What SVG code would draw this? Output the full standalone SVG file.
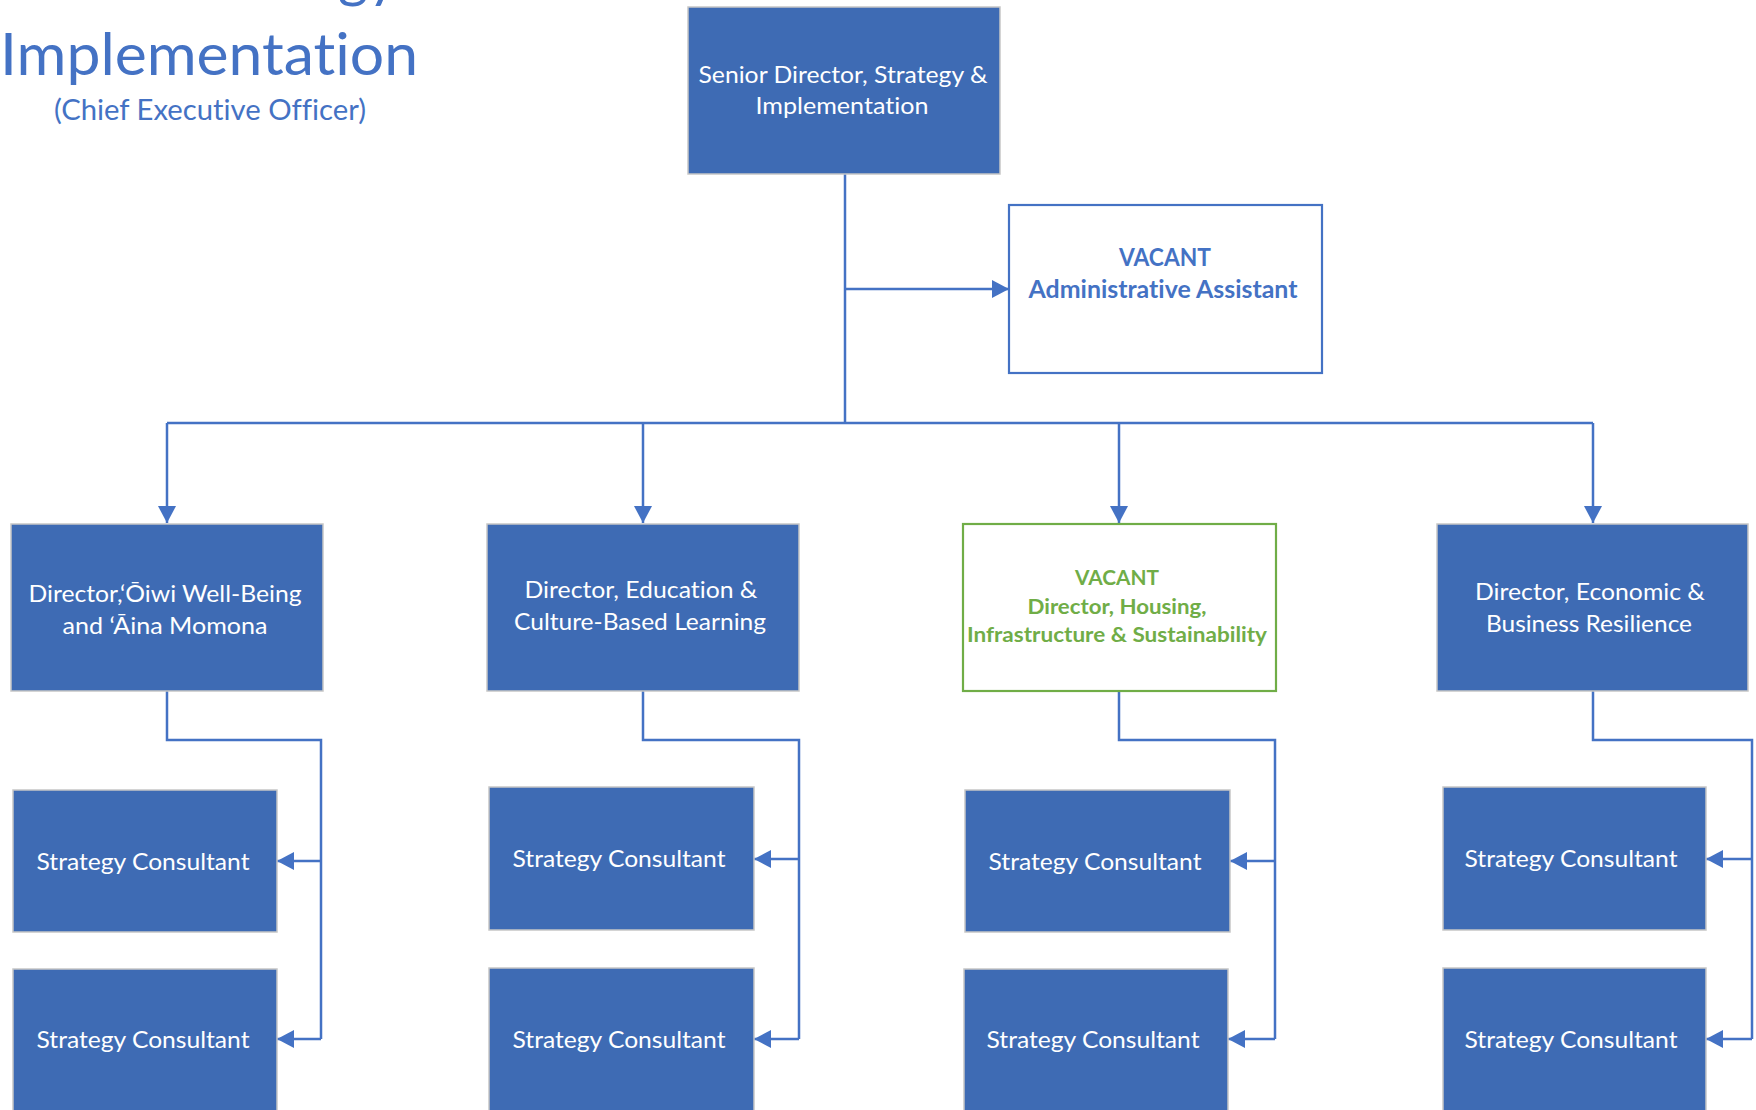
<svg xmlns="http://www.w3.org/2000/svg" width="1756" height="1110" viewBox="0 0 1756 1110">
  <style>
    text { font-family: Lato, "Open Sans", "Liberation Sans", sans-serif; text-anchor: middle; font-variant-ligatures: none; font-feature-settings: "liga" 0, "clig" 0; }
    .title { fill: #4472C4; }
    .box { fill: #3E6BB4; stroke: #C6C6C6; stroke-width: 1.5; }
    .box-open { fill: #FFFFFF; stroke: #4472C4; stroke-width: 2.2; }
    .box-green { fill: #FFFFFF; stroke: #70AD47; stroke-width: 2.2; }
    .lbl { fill: #FFFFFF; font-size: 24px; }
    .lbl-blue { fill: #4472C4; font-size: 24px; font-weight: bold; }
    .lbl-green { fill: #70AD47; font-size: 21px; font-weight: bold; }
    .wire { fill: none; stroke: #4472C4; stroke-width: 2.5; }
  </style>
  <defs>
    <marker id="arrow" markerUnits="userSpaceOnUse" markerWidth="18" markerHeight="18" refX="17" refY="9" orient="auto">
      <path d="M0,0 L17,9 L0,18 z" fill="#4472C4"/>
    </marker>
  </defs>
  <rect width="1756" height="1110" fill="#FFFFFF"/>

  <!-- Heading (first line runs off the top edge) -->
  <g id="heading">
    <text class="title" x="398" y="-4" font-size="58" style="text-anchor:end">Strategy</text>
    <text class="title" x="209" y="75" font-size="58" textLength="418" lengthAdjust="spacingAndGlyphs">Implementation</text>
    <text class="title" x="210" y="120" font-size="28.5" textLength="312" lengthAdjust="spacingAndGlyphs">(Chief Executive Officer)</text>
  </g>

  <!-- Connectors -->
  <g id="connectors">
    <path class="wire" d="M845,174 V423"/>
    <path class="wire" d="M845,289 H1009" marker-end="url(#arrow)"/>
    <path class="wire" d="M167,423 H1593"/>
    <path class="wire" d="M167,423 V523" marker-end="url(#arrow)"/>
    <path class="wire" d="M643,423 V523" marker-end="url(#arrow)"/>
    <path class="wire" d="M1119,423 V523" marker-end="url(#arrow)"/>
    <path class="wire" d="M1593,423 V523" marker-end="url(#arrow)"/>

    <path class="wire" d="M167,691 V740 H321 V1039"/>
    <path class="wire" d="M321,861 H277" marker-end="url(#arrow)"/>
    <path class="wire" d="M321,1039 H277" marker-end="url(#arrow)"/>

    <path class="wire" d="M643,691 V740 H799 V1039"/>
    <path class="wire" d="M799,859 H754" marker-end="url(#arrow)"/>
    <path class="wire" d="M799,1039 H754" marker-end="url(#arrow)"/>

    <path class="wire" d="M1119,691 V740 H1275 V1039"/>
    <path class="wire" d="M1275,861 H1230" marker-end="url(#arrow)"/>
    <path class="wire" d="M1275,1039 H1228" marker-end="url(#arrow)"/>

    <path class="wire" d="M1593,691 V740 H1752 V1039"/>
    <path class="wire" d="M1752,859 H1706" marker-end="url(#arrow)"/>
    <path class="wire" d="M1752,1039 H1706" marker-end="url(#arrow)"/>
  </g>

  <!-- Senior Director -->
  <g id="senior-director">
    <rect class="box" x="688" y="7" width="312" height="167"/>
    <text class="lbl" x="843" y="83" textLength="289" lengthAdjust="spacingAndGlyphs">Senior Director, Strategy &amp;</text>
    <text class="lbl" x="842" y="114" textLength="173" lengthAdjust="spacingAndGlyphs">Implementation</text>
  </g>

  <!-- Administrative Assistant -->
  <g id="admin-assistant">
    <rect class="box-open" x="1009" y="205" width="313" height="168"/>
    <text class="lbl-blue" x="1165" y="266" textLength="92" lengthAdjust="spacingAndGlyphs">VACANT</text>
    <text class="lbl-blue" x="1163" y="298" textLength="269" lengthAdjust="spacingAndGlyphs">Administrative Assistant</text>
  </g>

  <!-- Directors -->
  <g id="director-oiwi">
    <rect class="box" x="11" y="524" width="312" height="167"/>
    <text class="lbl" x="165" y="602" textLength="273" lengthAdjust="spacingAndGlyphs">Director,‘Ōiwi Well-Being</text>
    <text class="lbl" x="165" y="634" textLength="205" lengthAdjust="spacingAndGlyphs">and ‘Āina Momona</text>
  </g>
  <g id="director-education">
    <rect class="box" x="487" y="524" width="312" height="167"/>
    <text class="lbl" x="641" y="598" textLength="233" lengthAdjust="spacingAndGlyphs">Director, Education &amp;</text>
    <text class="lbl" x="640" y="630" textLength="252" lengthAdjust="spacingAndGlyphs">Culture-Based Learning</text>
  </g>
  <g id="director-housing">
    <rect class="box-green" x="963" y="524" width="313" height="167"/>
    <text class="lbl-green" x="1117" y="585" textLength="84" lengthAdjust="spacingAndGlyphs">VACANT</text>
    <text class="lbl-green" x="1117" y="614" textLength="179" lengthAdjust="spacingAndGlyphs">Director, Housing,</text>
    <text class="lbl-green" x="1117" y="642" textLength="300" lengthAdjust="spacingAndGlyphs">Infrastructure &amp; Sustainability</text>
  </g>
  <g id="director-economic">
    <rect class="box" x="1437" y="524" width="311" height="167"/>
    <text class="lbl" x="1590" y="600" textLength="230" lengthAdjust="spacingAndGlyphs">Director, Economic &amp;</text>
    <text class="lbl" x="1589" y="632" textLength="206" lengthAdjust="spacingAndGlyphs">Business Resilience</text>
  </g>

  <!-- Strategy Consultants -->
  <g id="consultant-1a">
    <rect class="box" x="13" y="790" width="264" height="142"/>
    <text class="lbl" x="143" y="870" textLength="213" lengthAdjust="spacingAndGlyphs">Strategy Consultant</text>
  </g>
  <g id="consultant-1b">
    <rect class="box" x="13" y="969" width="264" height="150"/>
    <text class="lbl" x="143" y="1048" textLength="213" lengthAdjust="spacingAndGlyphs">Strategy Consultant</text>
  </g>
  <g id="consultant-2a">
    <rect class="box" x="489" y="787" width="265" height="143"/>
    <text class="lbl" x="619" y="867" textLength="213" lengthAdjust="spacingAndGlyphs">Strategy Consultant</text>
  </g>
  <g id="consultant-2b">
    <rect class="box" x="489" y="968" width="265" height="150"/>
    <text class="lbl" x="619" y="1048" textLength="213" lengthAdjust="spacingAndGlyphs">Strategy Consultant</text>
  </g>
  <g id="consultant-3a">
    <rect class="box" x="965" y="790" width="265" height="142"/>
    <text class="lbl" x="1095" y="870" textLength="213" lengthAdjust="spacingAndGlyphs">Strategy Consultant</text>
  </g>
  <g id="consultant-3b">
    <rect class="box" x="964" y="969" width="264" height="150"/>
    <text class="lbl" x="1093" y="1048" textLength="213" lengthAdjust="spacingAndGlyphs">Strategy Consultant</text>
  </g>
  <g id="consultant-4a">
    <rect class="box" x="1443" y="787" width="263" height="143"/>
    <text class="lbl" x="1571" y="867" textLength="213" lengthAdjust="spacingAndGlyphs">Strategy Consultant</text>
  </g>
  <g id="consultant-4b">
    <rect class="box" x="1443" y="968" width="263" height="150"/>
    <text class="lbl" x="1571" y="1048" textLength="213" lengthAdjust="spacingAndGlyphs">Strategy Consultant</text>
  </g>
</svg>
